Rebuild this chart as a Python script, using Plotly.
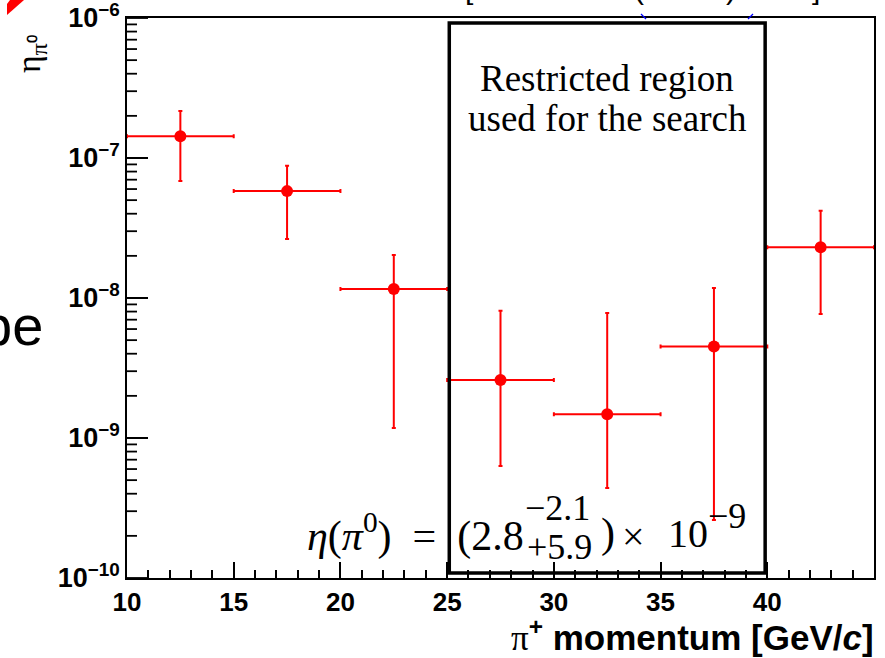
import math
import plotly.graph_objects as go

# ---------------- data ----------------
p_center = [12.5, 17.5, 22.5, 27.5, 32.5, 37.5, 42.5]
p_halfwidth = [2.5, 2.5, 2.5, 2.5, 2.5, 2.5, 2.5]
eta = [1.43e-7, 5.8e-8, 1.16e-8, 2.6e-9, 1.48e-9, 4.5e-9, 2.3e-8]
eta_up = [2.17e-7, 8.8e-8, 2.03e-8, 8.1e-9, 7.8e-9, 1.18e-8, 4.2e-8]
eta_lo = [6.86e-8, 2.64e-8, 1.18e-9, 6.3e-10, 4.4e-10, 2.6e-10, 7.7e-9]
region = [25.1, 39.9]
x_range = [10, 45]
y_range_log = [-10, -6]
y_decades = [1e-10, 1e-9, 1e-8, 1e-7, 1e-6]
y_ticktext = ["10<sup>−10</sup>", "10<sup>−9</sup>", "10<sup>−8</sup>", "10<sup>−7</sup>", "10<sup>−6</sup>"]

W, H = 885, 658
L, R, T, B = 127, 11, 18, 80
PW = W - L - R


def px(x):
    return (x - L) / PW


def py(y):
    return (H - B - y) / (H - T - B)


def ylog_paper(v):
    return (math.log10(v) - y_range_log[0]) / (y_range_log[1] - y_range_log[0])


err_plus = [u - v for u, v in zip(eta_up, eta)]
err_minus = [v - d for v, d in zip(eta, eta_lo)]
minor_vals = [m * d for d in y_decades[:-1] for m in range(2, 10)]

RED = "#ff0000"
fig = go.Figure()
fig.add_trace(go.Scatter(
    x=p_center, y=eta, mode="markers",
    marker=dict(color=RED, size=12),
    error_x=dict(type="data", array=p_halfwidth, color=RED, thickness=2, width=2),
    error_y=dict(type="data", symmetric=False, array=err_plus, arrayminus=err_minus,
                 color=RED, thickness=2, width=2),
    showlegend=False,
))

SANS = "Liberation Sans"
SERIF = "Liberation Serif"

fig.update_layout(
    xaxis=dict(
        range=x_range, dtick=5, tick0=10, ticks="inside", ticklen=16, tickwidth=1.5,
        tickcolor="black", showline=True, mirror=True, linecolor="black", linewidth=1.5,
        showgrid=False, zeroline=False, automargin=False,
        minor=dict(ticks="inside", ticklen=8, dtick=1, tickcolor="black", tickwidth=1.5, showgrid=False),
        tickfont=dict(family=SANS, size=26, color="black", weight="bold"),
    ),
    yaxis=dict(
        type="log", range=y_range_log, tickmode="array", tickvals=y_decades, ticktext=y_ticktext,
        ticks="inside", ticklen=21, tickwidth=2, ticklabeloverflow="allow", automargin=False,
        tickcolor="black", showline=True, mirror=True, linecolor="black", linewidth=1.5,
        showgrid=False, zeroline=False,
        tickfont=dict(family=SANS, size=27, color="black", weight="bold"),
    ),
)

shapes = [
    dict(type="rect", xref="x", yref="paper", x0=region[0], x1=region[1],
         y0=py(573), y1=py(23), line=dict(color="black", width=3.5)),
    dict(type="path", xref="paper", yref="paper",
         path=f"M {px(10)} {py(0)} L {px(24)} {py(0)} L {px(7)} {py(15)} L {px(7)} {py(4)} Z",
         fillcolor=RED, line=dict(width=0)),
    dict(type="line", xref="paper", yref="paper", x0=px(641), y0=py(14), x1=px(646), y1=py(19),
         line=dict(color="blue", width=1.2)),
    dict(type="line", xref="paper", yref="paper", x0=px(748), y0=py(19), x1=px(753), y1=py(14),
         line=dict(color="blue", width=1.2)),
]
# y-axis tick marks (major at decades, minor at 2..9 x decade), drawn inside the frame
for v in y_decades:
    yp = ylog_paper(v)
    shapes.append(dict(type="line", xref="paper", yref="paper", x0=0, x1=21 / PW, y0=yp, y1=yp,
                       line=dict(color="black", width=1.8)))
for v in minor_vals:
    yp = ylog_paper(v)
    shapes.append(dict(type="line", xref="paper", yref="paper", x0=0, x1=10 / PW, y0=yp, y1=yp,
                       line=dict(color="black", width=1.8)))

ann = []


def add(text, x, y, size, family=SERIF, xanchor="center", yanchor="middle", angle=0, weight="normal"):
    ann.append(dict(text=text, x=px(x), y=py(y), xref="paper", yref="paper",
                    xanchor=xanchor, yanchor=yanchor, showarrow=False, textangle=angle,
                    borderpad=0,
                    font=dict(family=family, size=size, color="black", weight=weight)))


add("Restricted region", 607, 79, 37)
add("used for the search", 607, 118, 37)

# formula  eta(pi0) = (2.8 ^{-2.1}_{+5.9}) x 10^{-9}
add("<i>η</i>(<i>π</i><sup>0</sup>)  =  (2.8", 525, 533, 42, xanchor="right")
add("−2.1", 524, 508, 36, xanchor="left")
add("+5.9", 526, 547, 36, xanchor="left")
add(")", 600, 533, 42, xanchor="left")
add("×", 633, 536, 40)
add("10", 667, 533, 40, xanchor="left")
add("−9", 707, 516, 36, xanchor="left")

# axis titles
add("<span style='font-family:Liberation Serif;font-weight:normal'>π</span><sup>+</sup> momentum [GeV/<i>c</i>]",
    875, 635, 35, family=SANS, xanchor="right", weight="bold")
add("η<sub>π⁰</sub>", 31, 54, 34, angle=-90)

# cut-off neighbouring text
add("be", 44, 325, 56, family=SANS, xanchor="right")
for ch, xc in [("[", 469), ("(", 639), (")", 731), ("]", 816)]:
    add(ch, xc, 6, 30, family=SANS, yanchor="bottom")

fig.update_layout(
    width=W, height=H, margin=dict(l=L, r=R, t=T, b=B),
    paper_bgcolor="white", plot_bgcolor="white",
    shapes=shapes, annotations=ann,
)
fig.write_html("out.html")
